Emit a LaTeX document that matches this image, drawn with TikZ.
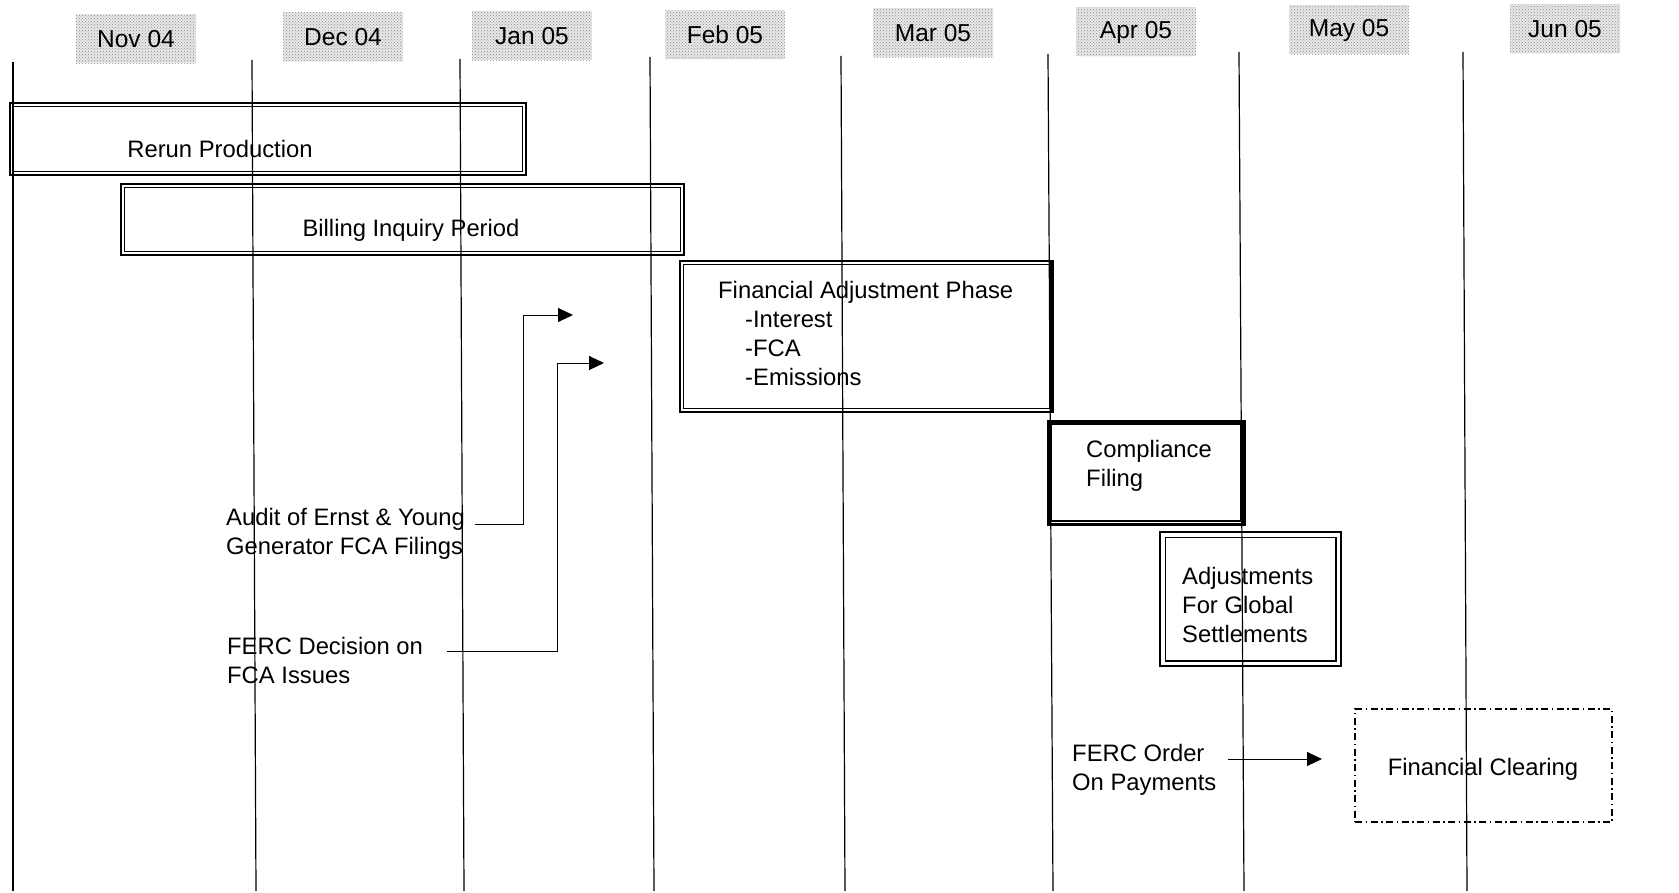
\documentclass[tikz,border=0pt]{standalone}
\usepackage{fontspec}
\setmainfont{Liberation Sans}
\usetikzlibrary{arrows.meta,patterns}
\newcommand\innerframe[3]{\draw[line width=#3] ([shift={(#2,-#2)}]#1.north west) rectangle ([shift={(-#2,#2)}]#1.south east);}
\begin{document}
\begin{tikzpicture}[x=1pt,y=-1pt,
  txt/.style={font=\fontsize{23.8}{29}\selectfont, inner sep=0pt, align=left},
  month/.style={fill=black!9, postaction={pattern=crosshatch dots, pattern color=black!45}, minimum width=120pt, minimum height=49pt, inner sep=0pt, font=\fontsize{24.5}{29}\selectfont},
  gridline/.style={line width=1.2pt},
  obox/.style={draw, inner sep=0pt},
  conn/.style={line width=0.9pt},
  tipped/.style={-{Triangle[length=15pt,width=14pt]}}
]
\fill[white] (0,0) rectangle (1679,893);
\useasboundingbox (0,0) rectangle (1679,893);

% month headers
\node[month] (m1) at (136,39) {Nov 04};
\node[month] (m2) at (343,37) {Dec 04};
\node[month] (m3) at (532,36) {Jan 05};
\node[month] (m4) at (725,35) {Feb 05};
\node[month] (m5) at (933,33) {Mar 05};
\node[month] (m6) at (1136,32) {Apr 05};
\node[month] (m7) at (1349,30) {May 05};
\node[month, minimum width=110pt] (m8) at (1565,29) {Jun 05};

% vertical month lines
\draw[gridline] (13,62) -- (13,891);
\draw[gridline] (252,60) -- (256,891);
\draw[gridline] (460,59) -- (464,891);
\draw[gridline] (650,57) -- (654,891);
\draw[gridline] (841,56) -- (845,891);
\draw[gridline] (1048,54) -- (1053,891);
\draw[gridline] (1239,52) -- (1244,891);
\draw[gridline] (1463,52) -- (1467,891);

% Rerun Production
\node[obox, line width=2.8pt, minimum width=516pt, minimum height=72pt] (rerun) at (268,139) {};
\innerframe{rerun}{5pt}{1.1pt}
\node[txt] (rerunT) at (220,149) {Rerun Production};

% Billing Inquiry Period
\node[obox, line width=2.8pt, minimum width=563pt, minimum height=71pt] (bill) at (402.5,219.5) {};
\innerframe{bill}{5pt}{1.1pt}
\node[txt] (billT) at (411,230) {Billing Inquiry Period};

% Financial Adjustment Phase
\node[obox, line width=2.8pt, minimum width=373pt, minimum height=151pt] (fap) at (866.5,336.5) {};
\innerframe{fap}{5pt}{1.2pt}
\draw[line width=2.5pt] ([xshift=-3pt]fap.north east) -- ([xshift=-3pt]fap.south east);
\node[txt, anchor=west] (fapT) at (718,333.5) {Financial Adjustment Phase\\\hspace*{27pt}-Interest\\\hspace*{27pt}-FCA\\\hspace*{27pt}-Emissions};

% Compliance Filing
\node[obox, line width=3pt, minimum width=196pt, minimum height=103pt] (comp) at (1146,472.5) {};
\innerframe{comp}{4.5pt}{1.5pt}
\draw[line width=3pt] ([xshift=3pt]comp.north west) -- ([xshift=3pt]comp.south west);
\draw[line width=2.5pt] ([xshift=-3pt]comp.north east) -- ([xshift=-3pt]comp.south east);
\node[txt, anchor=west] (compT) at (1086,465.5) {Compliance\\Filing};

% Adjustments For Global Settlements
\node[obox, line width=1.8pt, minimum width=181pt, minimum height=134pt] (adj) at (1250.5,599) {};
\innerframe{adj}{6pt}{1.2pt}
\node[txt, anchor=west] (adjT) at (1182,605) {Adjustments\\For Global\\Settlements};

% Financial Clearing
\node[obox, line width=1.1pt, dash pattern=on 7pt off 3.5pt on 1.5pt off 3.5pt, minimum width=257pt, minimum height=113pt] (fc) at (1483.5,765.5) {};
\node[txt] (fcT) at (1483,769) {Financial Clearing};

% event labels
\node[txt, anchor=west] (audit) at (226,533.5) {Audit of Ernst \& Young\\Generator FCA Filings};
\node[txt, anchor=west] (fercd) at (227,660) {FERC Decision on\\FCA Issues};
\node[txt, anchor=west] (fercp) at (1072,769.5) {FERC Order\\On Payments};

% connectors
\coordinate (t1) at (573,315);
\coordinate (t2) at (604,363);
\coordinate (t3) at (1322,759);
\draw[conn, tipped] ([shift={(10pt,9.5pt)}]audit.east) -- ++(48,0) |- (t1);
\draw[conn, tipped] ([shift={(24pt,9pt)}]fercd.east) -- ++(110,0) |- (t2);
\draw[conn, tipped] ([shift={(11pt,10.5pt)}]fercp.east) -- (t3);
\end{tikzpicture}
\end{document}
